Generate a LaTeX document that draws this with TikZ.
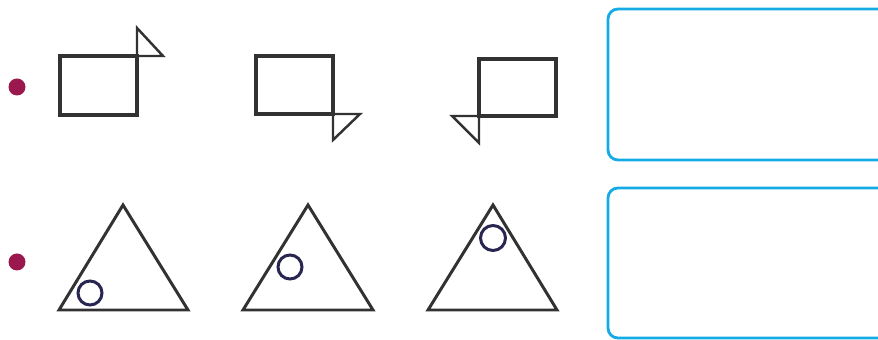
\documentclass[tikz,border=0pt]{standalone}
\usepackage[dvipsnames]{xcolor}
\definecolor{dotred}{RGB}{155,24,78}
\definecolor{boxblue}{RGB}{20,170,230}
\definecolor{inkgrey}{RGB}{50,50,50}
\definecolor{ringnavy}{RGB}{40,38,80}
\begin{document}
\begin{tikzpicture}[x=0.02cm, y=-0.02cm,
    bullet/.style={fill=dotred},
    frame/.style={draw=inkgrey, line width=2.2pt},
    flag/.style={draw=inkgrey, line width=1.4pt, line join=miter},
    bigtri/.style={draw=inkgrey, line width=1.7pt, line join=miter},
    ring/.style={draw=ringnavy, line width=1.7pt},
    answer/.style={draw=boxblue, line width=1.6pt, rounded corners=0.2cm}]
  \useasboundingbox (0,0) rectangle (878,340);
  \clip (0,0) rectangle (878,340);

  % first row: rectangles with a flag
  \coordinate (r1a) at (60,56);   \coordinate (r1b) at (137,115);
  \coordinate (r2a) at (256,56);  \coordinate (r2b) at (333,114);
  \coordinate (r3a) at (479,59);  \coordinate (r3b) at (556,116);

  \fill[bullet] (17,87) circle (8.5);
  \draw[frame] (r1a) rectangle (r1b);
  \draw[flag] (137,56) -- (137,28) -- (163,56) -- cycle;
  \draw[frame] (r2a) rectangle (r2b);
  \draw[flag] (333,114) -- (333,140) -- (360,114) -- cycle;
  \draw[frame] (r3a) rectangle (r3b);
  \draw[flag] (479,116) -- (452,116) -- (479,143) -- cycle;
  \draw[answer] (608,9) rectangle (900,160);

  % second row: triangles with a ring
  \coordinate (t1) at (123,205);
  \coordinate (t2) at (308,205);
  \coordinate (t3) at (493,205);

  \fill[bullet] (17,262) circle (8.5);
  \draw[bigtri] (t1) -- (59,310) -- (188,310) -- cycle;
  \draw[ring] (90,293) circle (12);
  \draw[bigtri] (t2) -- (243,310) -- (373,310) -- cycle;
  \draw[ring] (290,267) circle (12);
  \draw[bigtri] (t3) -- (428,310) -- (557,310) -- cycle;
  \draw[ring] (493,238) circle (12.5);
  \draw[answer] (608,188) rectangle (900,338);
\end{tikzpicture}
\end{document}
